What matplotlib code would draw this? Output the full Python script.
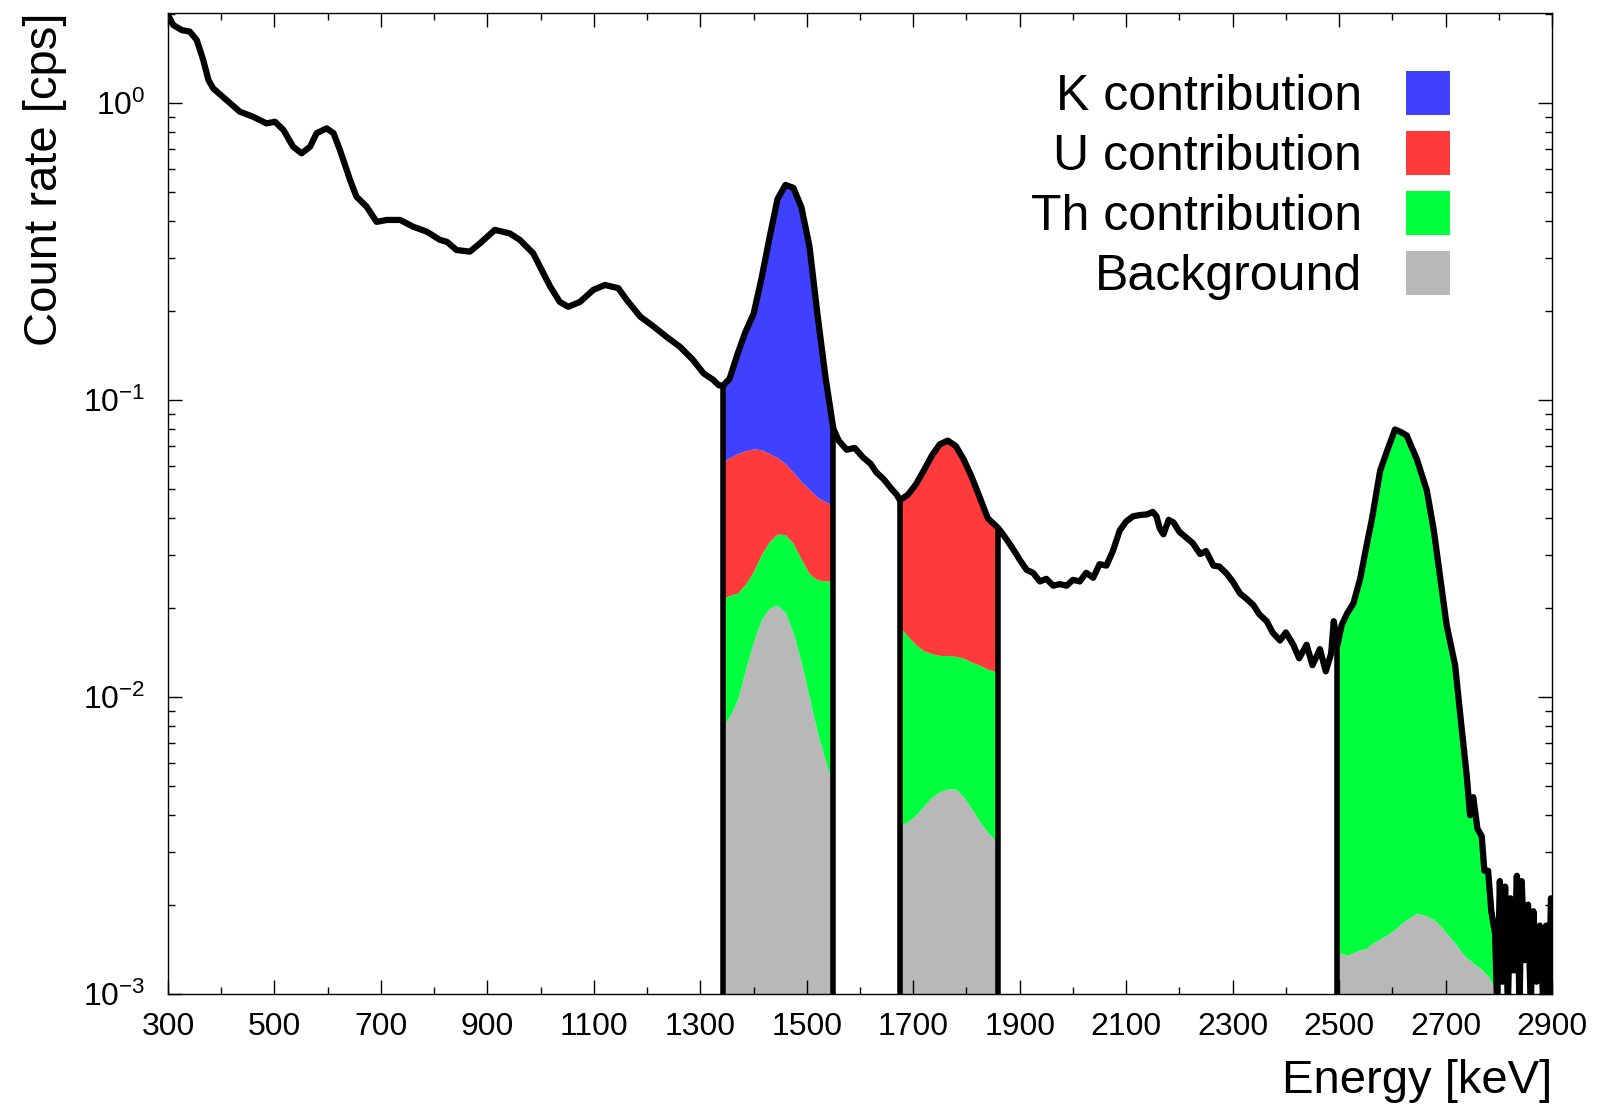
import numpy as np
import matplotlib
matplotlib.use("Agg")
import matplotlib.pyplot as plt
from matplotlib.patches import Rectangle
from matplotlib.ticker import FixedLocator, MultipleLocator, LogLocator

plt.rcParams['font.family'] = ['Liberation Sans', 'DejaVu Sans']
plt.rcParams['mathtext.default'] = 'regular'
plt.rcParams['axes.unicode_minus'] = False

# measured spectrum (keV, cps)
spec_energy = np.array([
    300, 310, 326, 341, 354, 366, 376, 385, 410, 435, 460, 485, 501, 517, 535, 551, 567, 579, 598, 611,
    623, 642, 654, 673, 692, 711, 736, 761, 786, 811, 824, 842, 867, 886, 914, 942, 961, 986, 999, 1018,
    1036, 1052, 1074, 1099, 1121, 1146, 1162, 1187, 1212, 1237, 1262, 1287, 1306, 1324, 1335,
    1343, 1355, 1370, 1385, 1400, 1415, 1430, 1445, 1460, 1475, 1490, 1505, 1520, 1535, 1550,
    1560, 1575, 1590, 1606, 1620, 1631, 1645, 1660, 1669,
    1675, 1690, 1705, 1720, 1735, 1750, 1765, 1780, 1795, 1810, 1825, 1840, 1860,
    1870, 1880, 1890, 1900, 1913, 1925, 1938, 1950, 1963, 1975, 1988, 2000, 2013, 2025, 2038, 2050,
    2063, 2075, 2088, 2100, 2113, 2126, 2139, 2150, 2157, 2163, 2170, 2180, 2189, 2200, 2214, 2225,
    2239, 2250, 2264, 2275, 2289, 2300, 2314, 2325, 2339, 2350, 2364, 2375, 2389, 2400, 2414, 2425,
    2439, 2450, 2464, 2475, 2485, 2490,
    2497, 2505, 2515, 2527, 2540, 2550, 2562, 2577, 2590, 2605, 2616, 2627, 2646, 2665, 2678, 2690,
    2702, 2718, 2728, 2740, 2746, 2752, 2760, 2768, 2773, 2780, 2786, 2793,
    2797, 2802, 2807, 2812, 2817, 2822, 2828, 2834, 2839, 2843, 2849, 2855, 2860, 2865, 2871, 2877,
    2884, 2889, 2894, 2898, 2900])
spec_rate = np.array([
    1.98, 1.83, 1.76, 1.74, 1.63, 1.40, 1.195, 1.12, 1.023, 0.935, 0.899, 0.854, 0.865, 0.811, 0.713,
    0.677, 0.713, 0.791, 0.822, 0.791, 0.695, 0.551, 0.484, 0.448, 0.398, 0.404, 0.404, 0.383, 0.369,
    0.346, 0.341, 0.320, 0.316, 0.337, 0.374, 0.364, 0.346, 0.312, 0.281, 0.241, 0.214, 0.206, 0.214,
    0.235, 0.244, 0.238, 0.217, 0.191, 0.177, 0.163, 0.151, 0.136, 0.123, 0.117, 0.112,
    0.112, 0.118, 0.143, 0.170, 0.195, 0.257, 0.352, 0.475, 0.530, 0.518, 0.445, 0.330, 0.195, 0.120, 0.080,
    0.073, 0.068, 0.069, 0.064, 0.061, 0.057, 0.054, 0.050, 0.048,
    0.046, 0.048, 0.052, 0.058, 0.065, 0.071, 0.073, 0.070, 0.063, 0.055, 0.047, 0.040, 0.037,
    0.035, 0.033, 0.031, 0.029, 0.0268, 0.0262, 0.0245, 0.0250, 0.0237, 0.0240, 0.0237, 0.0248, 0.0245,
    0.0262, 0.0252, 0.0280, 0.0277, 0.031, 0.0364, 0.039, 0.0406, 0.041, 0.0412, 0.0420, 0.0406, 0.0370,
    0.0353, 0.0395, 0.0387, 0.036, 0.0343, 0.033, 0.0303, 0.0310, 0.0277, 0.0275, 0.0260, 0.0245, 0.0223,
    0.0215, 0.0204, 0.0190, 0.0180, 0.0165, 0.0155, 0.0165, 0.0150, 0.0135, 0.0150, 0.0128, 0.0145,
    0.0122, 0.0140, 0.0180,
    0.0150, 0.0175, 0.0191, 0.0207, 0.0252, 0.0313, 0.0400, 0.0577, 0.0673, 0.0796, 0.0780, 0.0760,
    0.0633, 0.0495, 0.0364, 0.0252, 0.0175, 0.0128, 0.0086, 0.0054, 0.0040, 0.0046, 0.0036, 0.0034,
    0.0026, 0.0026, 0.0019, 0.0016,
    0.0009, 0.0024, 0.0011, 0.0023, 0.0009, 0.0021, 0.0012, 0.0025, 0.0009, 0.0024, 0.0013, 0.0020,
    0.0009, 0.0019, 0.0011, 0.0017, 0.0009, 0.0017, 0.0009, 0.0021, 0.0019])

# K window (1343-1550 keV): upper edges of the stacked layers
k_window = (1343, 1550)
k_bg_level = [0.0080, 0.0086, 0.0098, 0.0124, 0.0154, 0.0183, 0.0199, 0.0204, 0.0192, 0.0163, 0.0130,
              0.0099, 0.0076, 0.0061, 0.0050]
k_th_level = [0.0215, 0.0220, 0.0224, 0.0240, 0.0265, 0.0303, 0.0334, 0.0354, 0.0352, 0.0328, 0.0290,
              0.0260, 0.0248, 0.0246, 0.0246]
k_u_level = [0.062, 0.064, 0.066, 0.0675, 0.0685, 0.068, 0.066, 0.064, 0.061, 0.057, 0.053, 0.050,
             0.047, 0.0455, 0.044]

# U window (1675-1860 keV)
u_window = (1675, 1860)
u_bg_level = [0.0037, 0.0038, 0.0040, 0.0043, 0.0046, 0.0048, 0.0049, 0.0049, 0.0046, 0.0042, 0.0038,
              0.0035, 0.0032]
u_th_level = [0.0172, 0.0160, 0.0150, 0.0143, 0.0140, 0.0138, 0.0138, 0.0137, 0.0135, 0.0131, 0.0128,
              0.0124, 0.0121]

# Th window (2497-2793 keV)
th_window = (2497, 2793)
th_bg_level = [0.00137, 0.00137, 0.00135, 0.00138, 0.00141, 0.00142, 0.00148, 0.00153, 0.00158,
               0.00165, 0.00172, 0.00178, 0.00187, 0.00183, 0.00178, 0.00170, 0.00160, 0.00148,
               0.00140, 0.00132, 0.00130, 0.00127, 0.00124, 0.00121, 0.00118, 0.00115, 0.00110, 0.00104]

labels = ['K contribution', 'U contribution', 'Th contribution', 'Background']
colors = ['#4040ff', '#ff3a3a', '#00ff3c', '#b8b8b8']
c_k, c_u, c_th, c_bg = colors

W, H = 1599, 1109
fig = plt.figure(figsize=(W / 100, H / 100), dpi=100)
ax = fig.add_axes([168 / W, 1 - 994 / H, 1384 / W, 981 / H])
ax.set_yscale('log')
ax.set_xlim(300, 2900)
ax.set_ylim(1e-3, 2.01)
ymin = 1e-3


def window(lo, hi):
    sel = (spec_energy >= lo) & (spec_energy <= hi)
    return spec_energy[sel], spec_rate[sel]


e, tot = window(*k_window)
ax.fill_between(e, ymin, k_bg_level, color=c_bg, lw=0)
ax.fill_between(e, k_bg_level, k_th_level, color=c_th, lw=0)
ax.fill_between(e, k_th_level, k_u_level, color=c_u, lw=0)
ax.fill_between(e, k_u_level, tot, color=c_k, lw=0)
ax.vlines([e[0], e[-1]], ymin, [tot[0], tot[-1]], color='black', lw=4, zorder=3)

e, tot = window(*u_window)
ax.fill_between(e, ymin, u_bg_level, color=c_bg, lw=0)
ax.fill_between(e, u_bg_level, u_th_level, color=c_th, lw=0)
ax.fill_between(e, u_th_level, tot, color=c_u, lw=0)
ax.vlines([e[0], e[-1]], ymin, [tot[0], tot[-1]], color='black', lw=4, zorder=3)

e, tot = window(*th_window)
ax.fill_between(e, ymin, th_bg_level, color=c_bg, lw=0)
ax.fill_between(e, th_bg_level, tot, color=c_th, lw=0)
ax.vlines([e[0]], ymin, [tot[0]], color='black', lw=4, zorder=3)

ax.plot(spec_energy, spec_rate, color='black', lw=4.5, zorder=4)

# ticks, ROOT style: inside and on all four sides
ax.xaxis.set_major_locator(FixedLocator(np.arange(300, 2901, 200)))
ax.xaxis.set_minor_locator(MultipleLocator(100))
ax.yaxis.set_major_locator(LogLocator(base=10))
ax.yaxis.set_minor_locator(LogLocator(base=10, subs=np.arange(2, 10)))
ax.tick_params(which='both', direction='in', top=True, right=True, width=1.0, labelsize=23)
ax.tick_params(which='major', length=10)
ax.tick_params(which='minor', length=5)
ax.tick_params(axis='x', which='major', pad=13)
ax.tick_params(axis='y', which='major', pad=16)
for s in ax.spines.values():
    s.set_linewidth(1.0)

ax.set_xlabel('Energy [keV]', fontsize=34, loc='right', labelpad=12)
ax.set_ylabel('Count rate [cps]', fontsize=34, loc='top', labelpad=12)

# legend on the right, text first, colour box after
for i, (lab, col) in enumerate(zip(labels, colors)):
    yc = 93 + 60 * i
    fig.text(1362 / W, 1 - (yc + 17) / H, lab, fontsize=36, ha='right', va='baseline')
    fig.patches.append(Rectangle((1406 / W, 1 - (yc + 21.5) / H), 44 / W, 43 / H,
                                 transform=fig.transFigure, facecolor=col, edgecolor='none'))

fig.savefig('out.png', dpi=100)
